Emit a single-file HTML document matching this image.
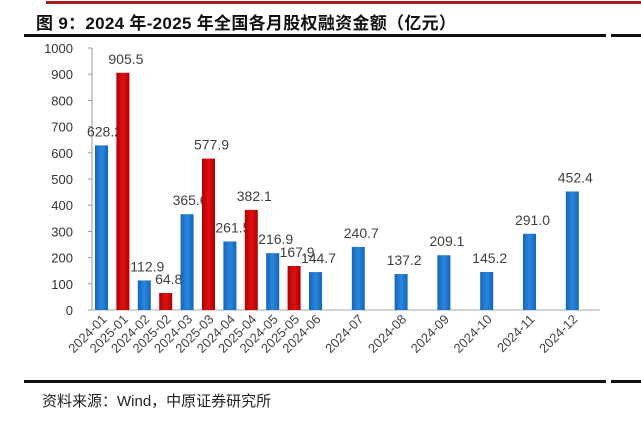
<!DOCTYPE html>
<html><head><meta charset="utf-8"><style>
body{margin:0;width:641px;height:423px;background:#fff;overflow:hidden;position:relative;font-family:"Liberation Sans","Noto Sans CJK SC",sans-serif}
.abs{position:absolute}
</style></head><body>
<div class="abs" style="left:46px;top:1px;width:595px;height:3px;background:#a31f1f"></div>
<div class="abs" style="left:36px;top:9px;font-size:17px;font-weight:bold;color:#111;font-family:'Liberation Sans','Noto Sans CJK SC',sans-serif;letter-spacing:0.3px">图 9：2024 年-2025 年全国各月股权融资金额（亿元）</div>
<div class="abs" style="left:24px;top:34px;width:582px;height:3px;background:#111"></div>
<div class="abs" style="left:611px;top:34px;width:30px;height:3px;background:#111"></div>
<div class="abs" style="left:24px;top:380px;width:582px;height:3px;background:#111"></div>
<div class="abs" style="left:611px;top:380px;width:30px;height:3px;background:#111"></div>
<div class="abs" style="left:42px;top:390px;font-size:15px;color:#222">资料来源：Wind，中原证券研究所</div>
<svg class="abs" style="left:0;top:0" width="641" height="423" id="chart">
<defs>
<linearGradient id="gb" x1="0" x2="1"><stop offset="0" stop-color="#1565b8"/><stop offset="0.5" stop-color="#2a86dc"/><stop offset="1" stop-color="#1565b8"/></linearGradient>
<linearGradient id="gr" x1="0" x2="1"><stop offset="0" stop-color="#b00000"/><stop offset="0.5" stop-color="#dd1111"/><stop offset="1" stop-color="#b00000"/></linearGradient>
</defs>
</svg>
<script>
const months=["01","02","03","04","05","06","07","08","09","10","11","12"];
const values2024=[628.2,112.9,365.6,261.5,216.9,144.7,240.7,137.2,209.1,145.2,291.0,452.4];
const values2025=[905.5,64.8,577.9,382.1,167.9];
const yTicks=[0,100,200,300,400,500,600,700,800,900,1000];
const svg=document.getElementById('chart');
const NS='http://www.w3.org/2000/svg';
const y0=310,yTop=48,yMax=1000;
const y=v=>y0-(v/yMax)*(y0-yTop);
const x=slot=>101.5+slot*21.4;
const bw=13;
function mk(t,a){const e=document.createElementNS(NS,t);for(const k in a)e.setAttribute(k,a[k]);svg.appendChild(e);return e;}
const ax=mk('line',{x1:92,y1:yTop,x2:92,y2:y0,stroke:'#999','stroke-width':1});


const bx=mk('line',{x1:92,y1:y0,x2:600,y2:y0,stroke:'#aaa','stroke-width':1});


yTicks.forEach(v=>{
 const tk=mk('line',{x1:88,x2:92,y1:y(v),y2:y(v),stroke:'#999'});
 
 
 const t=mk('text',{x:73,y:y(v)+5,'text-anchor':'end','font-size':13,fill:'#333','font-family':'Liberation Sans, sans-serif'});
 t.textContent=v;
 
 
});
function bar(slot,v,fill,label){
 const r=mk('rect',{x:x(slot)-bw/2,y:y(v),width:bw,height:y0-y(v),fill:fill});
 
 
 const t=mk('text',{x:x(slot)+3,y:y(v)-9,'text-anchor':'middle','font-size':14,fill:'#404040','font-family':'Liberation Sans, sans-serif'});
 t.textContent=v.toFixed(1);
 
 
 const lx=x(slot)+6,ly=y0+10;
 const c=mk('text',{x:lx,y:ly,'text-anchor':'end','font-size':13,fill:'#444',transform:`rotate(-45 ${lx} ${ly})`,'font-family':'Liberation Sans, sans-serif'});
 c.textContent=label;
 
 
}
months.forEach((m,i)=>{
 if(values2024[i]!=null) bar(2*i,values2024[i],'url(#gb)','2024-'+m);
 if(values2025[i]!=null) bar(2*i+1,values2025[i],'url(#gr)','2025-'+m);
});
</script>
</body></html>
